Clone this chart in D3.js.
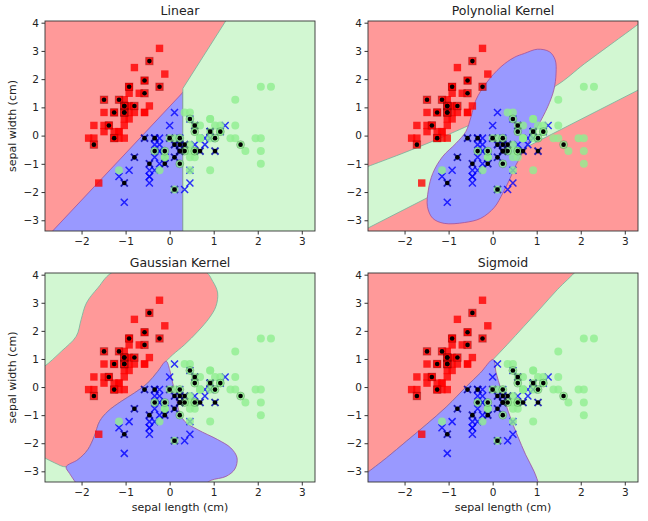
<!DOCTYPE html>
<html>
<head>
<meta charset="utf-8">
<script src="https://cdn.jsdelivr.net/npm/d3@7"></script>
<style>
  body { margin: 0; background: #fff; }
  text { font-family: "DejaVu Sans", sans-serif; fill: #222; }
</style>
</head>
<body>
<div id="chart"></div>
<script>
// standardized sepal length / width, one array per class
const setosaX = [-0.92,-1.15,-1.38,-1.49,-1.03,-0.57,-1.49,-1.03,-1.72,-1.15,
  -0.57,-1.26,-1.26,-1.84,-0.11,-0.23,-0.57,-0.92,-0.23,-0.92,
  -0.57,-0.92,-1.49,-0.92,-1.26,-1.03,-1.03,-0.80,-0.80,-1.38,
  -1.26,-0.57,-0.80,-0.46,-1.15,-1.03,-0.46,-1.15,-1.72,-0.92,
  -1.03,-1.61,-1.72,-1.03,-0.92,-1.26,-0.92,-1.49,-0.69,-1.03];
const setosaY = [1.05,-0.09,0.36,0.14,1.27,1.95,0.82,0.82,-0.32,0.14,
  1.50,0.82,-0.09,-0.09,2.18,3.09,1.95,1.05,1.73,1.73,
  0.82,1.50,1.27,0.59,0.82,-0.09,0.82,1.05,0.82,0.36,
  0.14,0.82,2.41,2.64,0.14,0.36,1.05,1.27,-0.09,0.82,
  1.05,-1.68,0.36,1.05,1.73,-0.09,1.73,0.36,1.50,0.59];
const versicolorX = [1.26,0.57,1.15,-0.46,0.69,-0.23,0.46,-1.15,0.80,-0.80,
  -1.03,0.00,0.11,0.23,-0.34,0.92,-0.34,-0.11,0.34,-0.34,
  0.00,0.23,0.46,0.23,0.57,0.80,1.03,0.92,0.11,-0.23,
  -0.46,-0.46,-0.11,0.11,-0.57,0.11,0.92,0.46,-0.34,-0.46,
  -0.46,0.23,-0.11,-1.03,-0.34,-0.23,-0.23,0.34,-0.92,-0.23];
const versicolorY = [0.36,0.36,0.14,-1.68,-0.55,-0.55,0.59,-1.45,-0.32,-0.77,
  -2.36,-0.09,-1.91,-0.32,-0.32,0.14,-0.09,-0.77,-1.91,-1.23,
  0.36,-0.55,-1.23,-0.55,-0.32,-0.09,-0.55,-0.09,-0.32,-1.00,
  -1.45,-1.45,-0.77,-0.77,-0.09,0.82,0.14,-1.68,-0.09,-1.23,
  -1.00,-0.09,-1.00,-1.68,-0.77,-0.09,-0.32,-0.32,-1.23,-0.55];
const virginicaX = [0.46,-0.11,1.38,0.46,0.69,1.95,-1.15,1.61,0.92,1.49,
  0.69,0.57,1.03,-0.23,-0.11,0.57,0.69,2.07,2.07,0.11,
  1.15,-0.34,2.07,0.46,0.92,1.49,0.34,0.23,0.57,1.49,
  1.72,2.30,0.57,0.46,0.23,2.07,0.46,0.57,0.11,1.15,
  0.92,1.15,-0.11,1.03,0.92,0.92,0.46,0.69,0.34,0.00];
const virginicaY = [0.59,-0.77,-0.09,-0.32,-0.09,-0.09,-1.23,-0.32,-1.23,1.27,
  0.36,-0.77,-0.09,-1.23,-0.55,0.36,-0.09,1.73,-1.00,-1.91,
  0.36,-0.55,-0.55,-0.77,0.59,0.36,-0.55,-0.09,-0.55,-0.09,
  -0.55,1.73,-0.55,-0.55,-1.00,-0.09,0.82,0.14,-0.09,0.14,
  0.14,0.14,-0.77,0.36,0.59,-0.09,-1.23,-0.09,0.82,-0.09];

// samples of the test split (index into setosa+versicolor+virginica)
const testIdx = [114,62,33,107,7,100,40,86,76,71,134,51,73,54,63,37,78,90,45,16,
  121,66,24,8,126,22,44,97,93,26,137,84,27,127,132,59,18,83,61,92,112,2,141,43,10];

const xTicks = [-2,-1,0,1,2,3];
const yTicks = [-3,-2,-1,0,1,2,3,4];
const xDomain = [-2.83, 3.30];
const yDomain = [-3.38, 4.06];

// decision boundaries, [x, y] in data units
const linearBlueEdge = [[-2.79,-3.6],[0.27,1.48],[0.30,1.55],[0.30,-3.6]];
const linearGreenEdge = [[0.30,-3.6],[0.30,1.67],[1.33,4.2]];
const linearGreenOut = [[3.5,4.2],[3.5,-3.6]];

const polyGreenEdge = [[-3.0,-1.2],[-2.84,-1.10],[-2.08,-0.65],[-1.33,-0.18],[-0.64,0.29],
  [1.40,1.73],[2.08,2.54],[2.69,3.24],[3.31,3.95],[3.5,4.18]];
const polyGreenOut = [[3.5,1.77],[-3.0,-3.41]];
const polyBlueEdge = [[0.72,2.91],[1.02,3.06],[1.29,2.97],[1.42,2.68],[1.44,2.21],[1.39,1.62],
  [1.25,1.02],[1.02,0.32],[0.76,-0.39],[0.53,-1.04],[0.38,-1.57],[0.23,-2.04],[0.04,-2.54],
  [-0.27,-2.93],[-0.64,-3.08],[-1.10,-3.11],[-1.36,-2.93],[-1.48,-2.52],[-1.46,-1.93],
  [-1.36,-1.34],[-1.14,-0.75],[-0.83,-0.27],[-0.61,0.14],[-0.49,0.67],[-0.38,1.26],
  [-0.15,1.85],[0.19,2.44],[0.49,2.77]];

const gaussRedEdge = [[-3.0,0.6],[-2.84,0.74],[-2.46,1.27],[-2.12,1.81],[-2.01,2.40],[-1.89,2.99],
  [-1.63,3.53],[-1.25,4.12],[0.79,4.12],[0.98,3.76],[1.09,3.35],[1.05,2.87],[0.90,2.46],
  [0.64,1.98],[0.34,1.51],[0.07,1.15],[-0.08,0.92],[-0.27,0.56],[-0.50,0.14],[-0.80,-0.21],
  [-1.10,-0.51],[-1.40,-0.86],[-1.59,-1.22],[-1.71,-1.75],[-1.86,-2.23],[-2.08,-2.58],
  [-2.35,-2.84],[-2.61,-2.70],[-2.84,-2.52],[-3.0,-2.4]];
const gaussRedOut = [[-3.2,-2.4],[-3.2,0.6]];
const gaussBlueEdge = [[-2.09,-3.5],[-2.27,-3.08],[-2.35,-2.84],[-2.08,-2.58],[-1.86,-2.23],
  [-1.71,-1.75],[-1.59,-1.22],[-1.40,-0.86],[-1.10,-0.51],[-0.80,-0.21],[-0.50,0.14],
  [-0.27,0.56],[-0.08,0.92],[0.00,0.62],[0.07,0.14],[0.15,-0.33],[0.20,-0.80],[0.34,-1.22],
  [0.64,-1.52],[1.09,-1.87],[1.39,-2.17],[1.53,-2.52],[1.48,-2.92],[1.28,-3.18],[0.94,-3.32],
  [0.77,-3.5]];

const sigRedEdge = [[-3.0,-3.25],[-2.87,-3.08],[-2.41,-2.52],[-1.96,-1.93],[-1.51,-1.34],
  [-1.04,-0.69],[-0.59,0.03],[-0.28,0.50],[0.01,0.98],[0.33,1.51],[0.71,2.16],[1.09,2.81],
  [1.47,3.47],[1.89,4.12],[1.95,4.25]];
const sigRedOut = [[-3.2,4.3],[-3.2,-3.3]];
const sigBlueEdge = [[-3.0,-3.25],[-2.87,-3.08],[-2.41,-2.52],[-1.96,-1.93],[-1.51,-1.34],
  [-1.04,-0.69],[-0.59,0.03],[-0.28,0.50],[0.01,0.98],[0.08,0.50],[0.18,-0.03],[0.29,-0.57],
  [0.42,-1.16],[0.57,-1.75],[0.75,-2.41],[0.94,-3.0],[1.05,-3.47],[1.07,-3.6]];
const sigBlueOut = [[-3.2,-3.6]];

const regionFill = { red: "#ff9999", blue: "#9999ff", green: "#d2f7d2" };
const regionEdge = { red: "#74b39c", blue: "#a0509c", green: "#74b39c" };

const panels = [
  { title: "Linear", box: { l: 45, t: 21, r: 315, b: 231 }, bg: "red", smooth: false,
    regions: [ { cls: "blue", edge: linearBlueEdge, out: [] },
               { cls: "green", edge: linearGreenEdge, out: linearGreenOut } ],
    yLabel: true, xLabel: false },
  { title: "Polynolial Kernel", box: { l: 368, t: 21, r: 638, b: 231 }, bg: "red", smooth: true,
    regions: [ { cls: "green", edge: polyGreenEdge, out: polyGreenOut },
               { cls: "blue", edge: polyBlueEdge, closed: true } ],
    yLabel: false, xLabel: false },
  { title: "Gaussian Kernel", box: { l: 45, t: 273, r: 315, b: 482 }, bg: "green", smooth: true,
    regions: [ { cls: "red", edge: gaussRedEdge, out: gaussRedOut },
               { cls: "blue", edge: gaussBlueEdge, out: [] } ],
    yLabel: true, xLabel: true },
  { title: "Sigmoid", box: { l: 368, t: 273, r: 638, b: 482 }, bg: "green", smooth: true,
    regions: [ { cls: "red", edge: sigRedEdge, out: sigRedOut },
               { cls: "blue", edge: sigBlueEdge, out: sigBlueOut } ],
    yLabel: false, xLabel: true }
];

// all samples in plotting order
const samples = [];
[[setosaX, setosaY, 0], [versicolorX, versicolorY, 1], [virginicaX, virginicaY, 2]]
  .forEach(([xs, ys, c]) => xs.forEach((v, i) => samples.push({ x: v, y: ys[i], c: c })));
const testSamples = testIdx.map(i => samples[i]);

const svg = d3.select("#chart").append("svg")
  .attr("width", 648).attr("height", 521);

function drawMarker(g, d, x, y, overlay) {
  const cx = x(d.x), cy = y(d.y);
  if (d.c === 0) {
    const s = 7.4;
    g.append("rect").attr("x", cx - s / 2).attr("y", cy - s / 2).attr("width", s).attr("height", s)
      .attr("fill", overlay ? "none" : "red").attr("fill-opacity", 0.8)
      .attr("stroke", overlay ? "#600" : "none").attr("stroke-opacity", 0.35);
  } else if (d.c === 1) {
    const h = 3.5;
    g.append("path")
      .attr("d", `M${cx - h},${cy - h}L${cx + h},${cy + h}M${cx - h},${cy + h}L${cx + h},${cy - h}`)
      .attr("stroke", overlay ? "#000" : "blue").attr("stroke-width", overlay ? 2.2 : 1.5)
      .attr("stroke-opacity", overlay ? 0.25 : 0.8).attr("fill", "none");
  } else {
    g.append("circle").attr("cx", cx).attr("cy", cy).attr("r", 4)
      .attr("fill", overlay ? "none" : "#90ee90").attr("fill-opacity", 0.8)
      .attr("stroke", overlay ? "#363" : "none").attr("stroke-opacity", 0.3);
  }
}

panels.forEach((p, pi) => {
  const { l, t, r, b } = p.box;
  const x = d3.scaleLinear().domain(xDomain).range([l, r]);
  const y = d3.scaleLinear().domain(yDomain).range([b, t]);
  const g = svg.append("g");

  const clipId = "clip" + pi;
  svg.append("clipPath").attr("id", clipId)
    .append("rect").attr("x", l).attr("y", t).attr("width", r - l).attr("height", b - t);

  const plot = g.append("g").attr("clip-path", `url(#${clipId})`);
  plot.append("rect").attr("x", l).attr("y", t).attr("width", r - l).attr("height", b - t)
    .attr("fill", regionFill[p.bg]);

  p.regions.forEach(reg => {
    let d;
    if (reg.closed) {
      d = d3.line().x(q => x(q[0])).y(q => y(q[1]))
        .curve(d3.curveCatmullRomClosed.alpha(0.5))(reg.edge);
    } else {
      const line = d3.line().x(q => x(q[0])).y(q => y(q[1]))
        .curve(p.smooth ? d3.curveCatmullRom.alpha(0.5) : d3.curveLinear);
      d = line(reg.edge) + reg.out.map(q => `L${x(q[0])},${y(q[1])}`).join("") + "Z";
    }
    plot.append("path").attr("d", d)
      .attr("fill", regionFill[reg.cls])
      .attr("stroke", regionEdge[reg.cls]).attr("stroke-width", 0.8);
  });

  const pts = plot.append("g");
  samples.forEach(d => drawMarker(pts, d, x, y, false));
  testSamples.forEach(d => drawMarker(pts, d, x, y, true));
  pts.selectAll(".test").data(testSamples).join("circle")
    .attr("class", "test")
    .attr("cx", d => x(d.x)).attr("cy", d => y(d.y)).attr("r", 2.3)
    .attr("fill", "#000");

  // frame
  g.append("rect").attr("x", l).attr("y", t).attr("width", r - l).attr("height", b - t)
    .attr("fill", "none").attr("stroke", "#333").attr("stroke-width", 0.9);

  const fmt = d3.format("d");
  const xAxis = g.append("g").attr("transform", `translate(0,${b})`)
    .call(d3.axisBottom(x).tickValues(xTicks).tickFormat(fmt).tickSize(3.5).tickSizeOuter(0).tickPadding(3));
  const yAxis = g.append("g").attr("transform", `translate(${l},0)`)
    .call(d3.axisLeft(y).tickValues(yTicks).tickFormat(fmt).tickSize(3.5).tickSizeOuter(0).tickPadding(2.5));
  [xAxis, yAxis].forEach(a => {
    a.select(".domain").remove();
    a.selectAll("line").attr("stroke", "#333");
    a.selectAll("text").attr("font-family", "DejaVu Sans").attr("font-size", 10.5).attr("fill", "#222");
  });

  g.append("text").attr("x", (l + r) / 2).attr("y", t - 6)
    .attr("text-anchor", "middle").attr("font-size", 12.5).text(p.title);

  if (p.yLabel) {
    g.append("text").attr("transform", `translate(16,${(t + b) / 2}) rotate(-90)`)
      .attr("text-anchor", "middle").attr("font-size", 11).text("sepal width (cm)");
  }
  if (p.xLabel) {
    g.append("text").attr("x", (l + r) / 2).attr("y", b + 29)
      .attr("text-anchor", "middle").attr("font-size", 11).text("sepal length (cm)");
  }
});
</script>
</body>
</html>
